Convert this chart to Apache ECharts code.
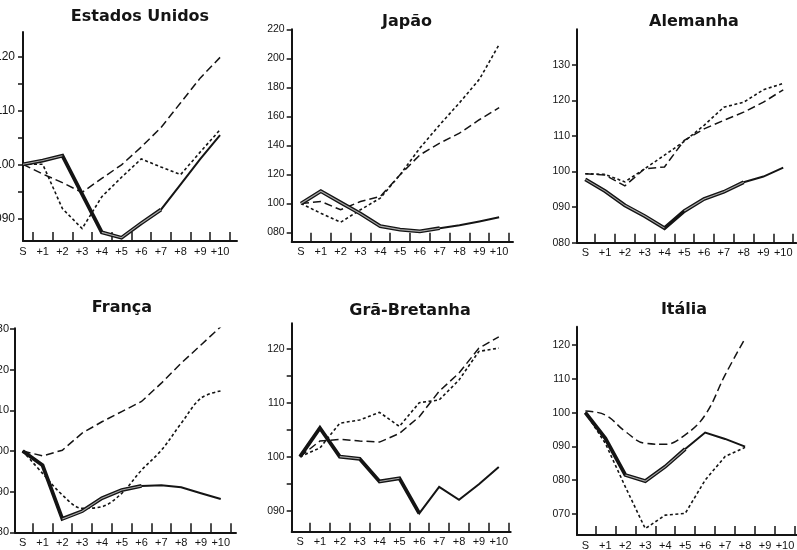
<!DOCTYPE html>
<html><head><meta charset="utf-8">
<script src="https://cdn.jsdelivr.net/npm/echarts@6/dist/echarts.min.js"></script>
<style>html,body{margin:0;padding:0;background:#fff}#c{width:797px;height:550px}</style>
</head><body><div id="c"></div>
<script>
// ---- data ----
const xCats = ['S','+1','+2','+3','+4','+5','+6','+7','+8','+9','+10'];

const usSolid  = [100, 100.7, 101.6, 94.5, 87.4, 86.4, 89.1, 91.6, 96.3, 101.0, 105.4];
const usDashed = [100, 98.2, 96.6, 94.8, 97.4, 99.9, 103.2, 106.8, 111.4, 116.0, 119.8];
const usDotted = [100, 100, 91.8, 88.1, 94.0, 97.6, 101.0, 99.5, 98.1, 102.3, 106.4];

const jpSolid  = [100, 108.5, 100.7, 93.0, 84.4, 82.0, 80.8, 83.0, 85.0, 87.6, 90.5];
const jpDashed = [100, 101.4, 95.7, 101.4, 104.8, 119.8, 133.5, 141.6, 148.5, 157.7, 166.0];
const jpDotted = [100, 93.3, 87.1, 95.7, 103.7, 119.8, 138.2, 154.2, 169.4, 185.5, 209.5];

const deSolid  = [97.8, 94.5, 90.5, 87.5, 84.1, 88.9, 92.3, 94.3, 97.0, 98.6, 101.1];
const deDashed = [99.4, 99.0, 96.0, 100.8, 101.3, 108.8, 112.0, 114.4, 116.7, 119.5, 123.0];
const deDotted = [99.4, 99.2, 97.1, 100.8, 104.6, 108.5, 113.0, 118.1, 119.5, 123.0, 124.8];

const frSolid  = [100, 96.5, 83.3, 85.2, 88.4, 90.4, 91.4, 91.6, 91.1, 89.6, 88.2];
const frDashed = [100, 98.8, 100.2, 104.4, 107.2, 109.7, 112.2, 116.7, 121.6, 126.1, 130.6];
const frDotted = [100, 94.5, 89.2, 85.9, 86.3, 89.6, 95.3, 100.2, 106.8, 113.0, 114.8];

const gbSolid  = [100, 105.3, 100.0, 99.6, 95.4, 96.0, 89.5, 94.4, 92.0, 94.9, 98.1];
const gbDashed = [100, 102.9, 103.2, 102.9, 102.7, 104.3, 107.4, 112.1, 115.5, 120.1, 122.2];
const gbDotted = [100, 101.6, 106.2, 106.8, 108.2, 105.6, 110.0, 110.5, 114.2, 119.5, 120.1];

const itSolid  = [100, 92.4, 81.5, 79.7, 84.0, 89.2, 94.1, 92.2, 89.9, null, null];
const itDashed = [100.5, 99.3, 94.4, 90.9, 90.6, 93.4, 99.3, 111.2, 122.0, null, null];
const itDotted = [100, 90.9, 78.0, 65.6, 69.6, 70.1, 80.0, 87.0, 89.7, null, null];

const titles = ['Estados Unidos', 'Japão', 'Alemanha', 'França', 'Grã-Bretanha', 'Itália'];

const usYLabels = [90, 100, 110, 120];
const usYTicks  = [90, 95, 100, 105, 110, 115, 120];
const jpYLabels = [80, 100, 120, 140, 160, 180, 200, 220];
const deYLabels = [80, 90, 100, 110, 120, 130];
const frYLabels = [80, 90, 100, 110, 120, 130];
const gbYLabels = [90, 100, 110, 120];
const gbYTicks  = [90, 95, 100, 105, 110, 115, 120];
const itYLabels = [70, 80, 90, 100, 110, 120];

// ---- layout (pixels / axis ranges) and stroke emphasis ranges (category index spans) ----
const panels = [
  {series:[usSolid, usDashed, usDotted], labels:usYLabels, ticks:usYTicks, fs:12, lm:8,
   left:23, top:32, axisR:237, axisB:241, xMin:0, xMax:10.86, yMin:85.8, yMax:124.5, tx:140, ty:17,
   thick:[[0,7]], hollow:[[0,2],[4,7]]},
  {series:[jpSolid, jpDashed, jpDotted], labels:jpYLabels, ticks:jpYLabels, fs:10.5, lm:7,
   left:291.7, top:29.3, axisR:513, axisB:241.7, xMin:-0.47, xMax:10.7, yMin:73.7, yMax:220, tx:407, ty:22,
   thick:[[0,7]], hollow:[[0,7]]},
  {series:[deSolid, deDashed, deDotted], labels:deYLabels, ticks:deYLabels, fs:10.5, lm:7,
   left:577, top:29.3, axisR:796.3, axisB:242.7, xMin:-0.42, xMax:10.66, yMin:80, yMax:140, tx:694, ty:22,
   thick:[[0,8]], hollow:[[0,4],[5,8]]},
  {series:[frSolid, frDashed, frDotted], labels:frYLabels, ticks:frYLabels, smooth:[0, 0, 0.35], fs:11, lm:6,
   left:15, top:328.3, axisR:236, axisB:532.3, xMin:-0.39, xMax:10.77, yMin:80, yMax:130.2, tx:122, ty:308,
   thick:[[0,6]], hollow:[[2,6]]},
  {series:[gbSolid, gbDashed, gbDotted], labels:gbYLabels, ticks:gbYTicks, fs:10.5, lm:7,
   left:291.7, top:323.3, axisR:510.7, axisB:531.7, xMin:-0.42, xMax:10.6, yMin:86.1, yMax:124.7, tx:410, ty:311,
   thick:[[0,6]], hollow:[[2,3],[4,5]]},
  {series:[itSolid, itDashed, itDotted], labels:itYLabels, ticks:itYLabels, smooth:[0, 0.4, 0], fs:10.5, lm:7,
   left:577, top:326.7, axisR:797, axisB:535, xMin:-0.42, xMax:10.6, yMin:63.7, yMax:125.5, tx:684, ty:310,
   thick:[[0,5]], hollow:[[2,5]]}
];

const W = 797, H = 550;
const INK = '#141414';
const FONT = 'Liberation Sans, Arial, sans-serif';
const pad3 = v => String(v).padStart(3, '0');
const xTickVals = xCats.map((c, i) => i + 0.5);
const xLabelVals = xCats.map((c, i) => i);

const styles = [
  {width: 2.0, type: 'solid'},
  {width: 1.5, type: [8, 4]},
  {width: 1.6, type: [3, 2.5]}
];

function pts(arr, from, to) {
  const data = [];
  arr.forEach((v, i) => {
    if (v !== null && v !== undefined && i >= from && i <= to) data.push([i, v]);
  });
  return data;
}

const grid = [], xAxis = [], yAxis = [], series = [], graphic = [];
panels.forEach((p, k) => {
  grid.push({left: p.left, top: p.top, width: p.axisR - p.left, height: p.axisB - p.top,
    containLabel: false, outerBoundsMode: 'none'});
  xAxis.push({
    type: 'value', gridIndex: k, min: p.xMin, max: p.xMax,
    splitLine: {show: false},
    axisLine: {show: true, onZero: false, lineStyle: {color: INK, width: 2}},
    axisTick: {show: true, inside: true, length: 9, customValues: xTickVals, lineStyle: {color: INK, width: 1.5}},
    axisLabel: {show: true, customValues: xLabelVals, margin: 5, color: INK, fontSize: 11, fontFamily: FONT,
      formatter: v => xCats[Math.round(v)]},
    minorTick: {show: false}
  });
  yAxis.push({
    type: 'value', gridIndex: k, min: p.yMin, max: p.yMax,
    splitLine: {show: false},
    axisLine: {show: true, onZero: false, lineStyle: {color: INK, width: 2}},
    axisTick: {show: true, inside: false, length: 5, customValues: p.ticks, lineStyle: {color: INK, width: 1.5}},
    axisLabel: {show: true, customValues: p.labels, margin: p.lm, color: INK, fontSize: p.fs, fontFamily: FONT,
      formatter: v => pad3(v)}
  });
  p.series.forEach((arr, j) => {
    series.push({
      type: 'line', xAxisIndex: k, yAxisIndex: k, data: pts(arr, 0, 99),
      showSymbol: false, symbol: 'none', silent: true,
      smooth: p.smooth ? p.smooth[j] : 0,
      lineStyle: {color: INK, width: styles[j].width, type: styles[j].type, cap: 'butt', join: 'miter'},
      z: 3 - j
    });
  });
  // heavier stroke on the early part of the solid line, with a light core where the print shows a double stroke
  p.thick.forEach(r => {
    series.push({
      type: 'line', xAxisIndex: k, yAxisIndex: k, data: pts(p.series[0], r[0], r[1]),
      showSymbol: false, symbol: 'none', silent: true,
      lineStyle: {color: INK, width: 3.8, type: 'solid', cap: 'butt', join: 'miter'}, z: 4
    });
  });
  p.hollow.forEach(r => {
    series.push({
      type: 'line', xAxisIndex: k, yAxisIndex: k, data: pts(p.series[0], r[0], r[1]),
      showSymbol: false, symbol: 'none', silent: true,
      lineStyle: {color: '#a8a8a8', width: 1.1, type: 'solid', cap: 'butt', join: 'miter'}, z: 5
    });
  });
  graphic.push({
    type: 'text', x: p.tx, y: p.ty,
    style: {text: titles[k], fill: INK, font: 'bold 16px "DejaVu Sans", sans-serif', align: 'center', verticalAlign: 'middle'}
  });
});

const chart = echarts.init(document.getElementById('c'), null, {renderer: 'canvas', width: W, height: H});
chart.setOption({
  animation: false,
  backgroundColor: '#fff',
  grid, xAxis, yAxis, series, graphic
});
</script>
</body></html>
